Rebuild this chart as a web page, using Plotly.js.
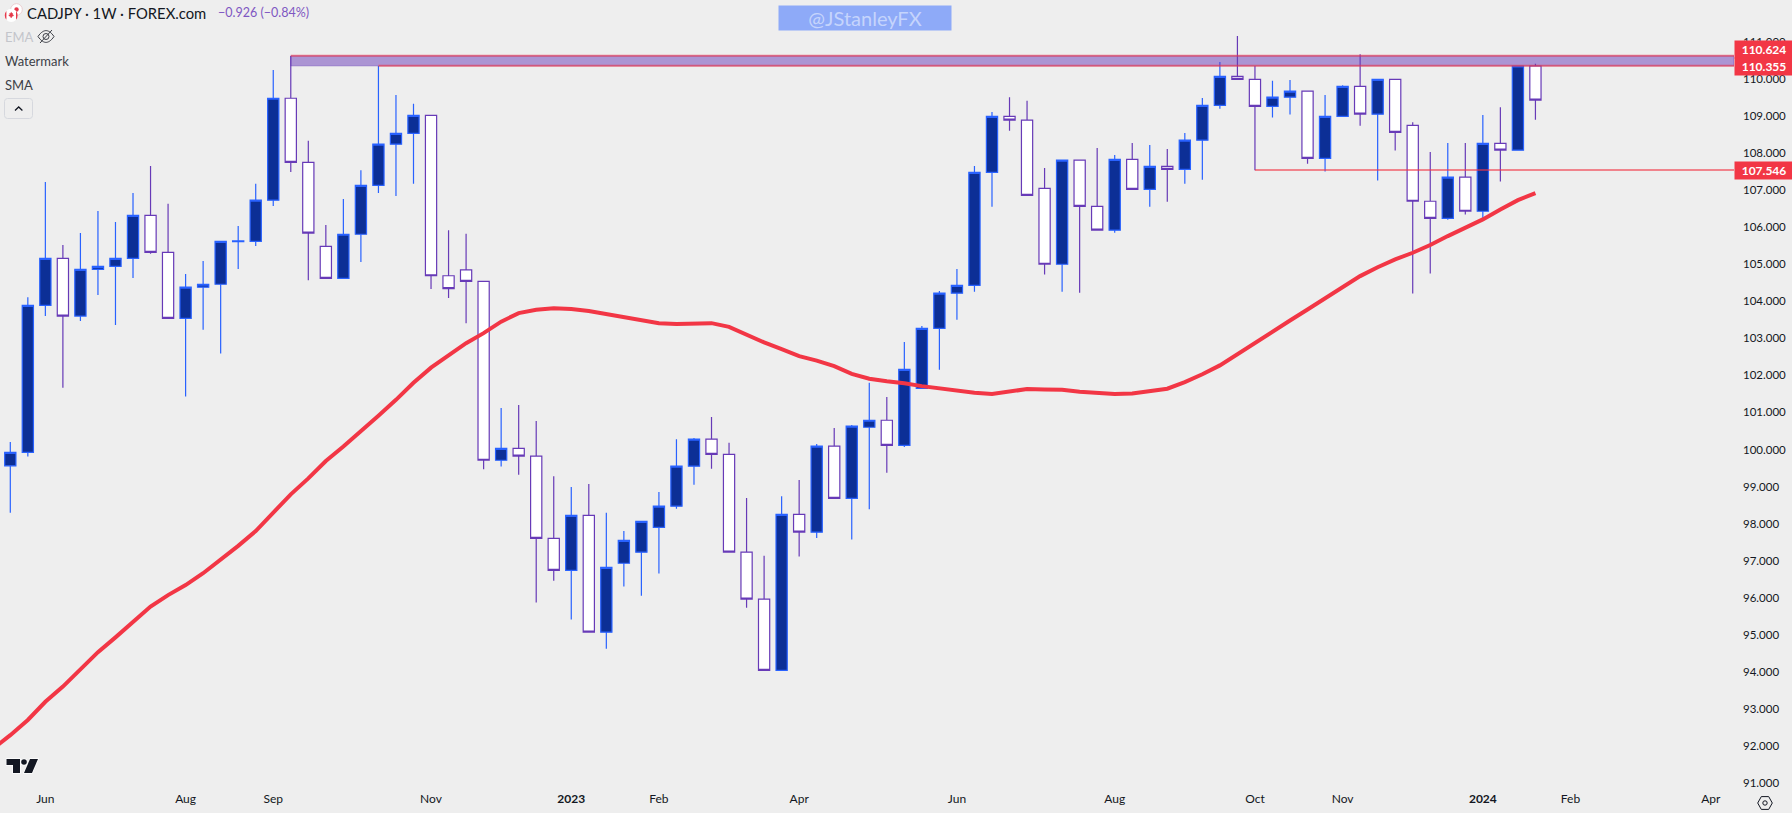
<!DOCTYPE html>
<html><head><meta charset="utf-8">
<script src="https://cdn.plot.ly/plotly-3.0.1.min.js"></script>
<style>html,body{margin:0;padding:0;background:#eeeeee;overflow:hidden}#chart{width:1792px;height:813px}</style>
</head><body><div id="chart"></div>
<script>
const weeks = [
'2022-05-23','2022-05-30','2022-06-06','2022-06-13','2022-06-20','2022-06-27','2022-07-04','2022-07-11','2022-07-18','2022-07-25',
'2022-08-01','2022-08-08','2022-08-15','2022-08-22','2022-08-29','2022-09-05','2022-09-12','2022-09-19','2022-09-26','2022-10-03',
'2022-10-10','2022-10-17','2022-10-24','2022-10-31','2022-11-07','2022-11-14','2022-11-21','2022-11-28','2022-12-05','2022-12-12',
'2022-12-19','2022-12-26','2023-01-02','2023-01-09','2023-01-16','2023-01-23','2023-01-30','2023-02-06','2023-02-13','2023-02-20',
'2023-02-27','2023-03-06','2023-03-13','2023-03-20','2023-03-27','2023-04-03','2023-04-10','2023-04-17','2023-04-24','2023-05-01',
'2023-05-08','2023-05-15','2023-05-22','2023-05-29','2023-06-05','2023-06-12','2023-06-19','2023-06-26','2023-07-03','2023-07-10',
'2023-07-17','2023-07-24','2023-07-31','2023-08-07','2023-08-14','2023-08-21','2023-08-28','2023-09-04','2023-09-11','2023-09-18',
'2023-09-25','2023-10-02','2023-10-09','2023-10-16','2023-10-23','2023-10-30','2023-11-06','2023-11-13','2023-11-20','2023-11-27',
'2023-12-04','2023-12-11','2023-12-18','2023-12-25','2024-01-01','2024-01-08','2024-01-15','2024-01-22'];
const opens = [
99.56,99.92,103.89,105.16,103.60,104.86,104.94,105.16,106.32,105.32,
103.54,104.38,104.46,105.61,105.62,106.73,109.48,107.75,105.48,104.62,
105.81,107.13,108.24,108.53,109.02,104.69,104.85,104.54,99.71,100.03,
99.82,97.60,96.74,98.22,95.07,96.93,97.23,97.90,98.47,99.55,
100.28,99.87,97.23,95.96,94.04,98.25,97.77,100.09,98.68,100.60,
100.79,100.11,101.65,103.27,104.22,104.43,107.48,108.99,108.89,107.05,
105.00,107.81,106.56,105.92,107.83,107.02,107.64,107.56,108.35,109.29,
110.07,109.99,109.26,109.51,109.67,107.86,108.99,109.80,109.05,109.99,
108.75,106.70,106.24,107.35,106.43,108.26,108.08,110.35];
const highs = [
100.20,104.11,107.22,105.52,105.84,106.44,106.14,106.92,107.65,106.63,
104.74,105.09,105.62,106.03,107.17,110.24,110.62,108.33,106.06,106.76,
107.54,110.35,109.57,109.33,109.02,105.92,105.82,104.54,101.12,101.20,
100.77,99.28,98.99,99.07,98.29,97.80,98.06,98.85,100.28,100.31,
100.88,100.18,98.69,97.13,98.74,99.18,100.15,100.58,100.66,101.80,
101.42,102.90,103.33,104.28,104.87,107.65,109.11,109.51,109.41,107.60,
107.81,107.81,108.14,107.95,108.27,108.22,108.11,108.54,109.49,110.46,
111.16,110.35,109.95,109.97,109.67,109.57,109.83,110.67,109.99,109.99,
108.83,108.03,108.27,108.27,109.03,109.24,110.35,110.41];
const lows = [
98.29,99.81,103.60,101.67,103.47,104.17,103.36,104.63,105.28,103.54,
101.43,103.23,102.59,104.87,105.49,106.57,107.49,104.57,104.62,104.62,
105.06,106.92,106.84,107.17,104.33,104.09,103.41,99.47,99.54,99.32,
95.87,96.46,95.41,95.07,94.62,96.30,96.05,96.65,98.40,99.05,
99.48,97.23,95.73,94.04,94.04,97.11,97.61,98.68,97.57,98.39,
99.37,100.07,101.65,102.15,103.50,104.26,106.55,108.60,106.86,104.72,
104.26,104.23,105.92,105.85,107.02,106.55,106.69,107.17,107.28,109.20,
109.99,107.54,108.96,109.04,107.71,107.50,108.99,108.74,107.26,108.07,
104.21,104.75,106.20,106.34,106.22,107.23,108.08,108.90];
const closes = [
99.92,103.89,105.16,103.60,104.86,104.94,105.16,106.32,105.32,103.54,
104.38,104.46,105.62,105.63,106.73,109.48,107.75,105.84,104.62,105.81,
107.13,108.24,108.53,109.02,104.69,104.34,104.54,99.71,100.03,99.82,
97.60,96.74,98.22,95.07,96.82,97.55,98.06,98.47,99.55,100.28,
99.87,97.23,95.96,94.04,98.25,97.77,100.09,98.68,100.63,100.79,
100.11,102.16,103.27,104.22,104.43,107.48,108.99,108.89,106.86,105.00,
107.81,106.56,105.92,107.83,107.02,107.64,107.56,108.35,109.29,110.07,
109.99,109.26,109.51,109.67,107.86,108.99,109.80,109.05,109.99,108.56,
106.70,106.24,107.35,106.43,108.26,108.08,110.35,109.43];
const smaWeeks = ['2022-05-16'].concat(weeks);
const smaValues = [
91.92,92.29,92.70,93.19,93.60,94.05,94.53,94.93,95.35,95.76,
96.07,96.34,96.66,97.02,97.40,97.80,98.31,98.79,99.22,99.69,
100.08,100.48,100.91,101.34,101.80,102.21,102.55,102.87,103.14,103.45,
103.68,103.77,103.81,103.79,103.74,103.66,103.57,103.50,103.41,103.39,
103.39,103.41,103.31,103.09,102.89,102.71,102.52,102.40,102.25,102.04,
101.91,101.84,101.79,101.71,101.65,101.61,101.53,101.50,101.56,101.63,
101.62,101.61,101.56,101.53,101.50,101.51,101.57,101.64,101.82,102.03,
102.27,102.58,102.88,103.17,103.48,103.78,104.07,104.38,104.68,104.92,
105.13,105.31,105.52,105.76,105.98,106.21,106.48,106.73,106.92];
const levelNames = ['110.624','110.355','107.546'];
const levelValues = [110.624,110.355,107.546];
const levelStarts = ['2022-09-12','2022-10-17','2023-10-02'];
const levelLabelShift = [6.3,-0.8,-0.5];
const xTickDates = ['2022-06-06','2022-08-01','2022-09-05','2022-11-07','2023-01-02','2023-02-06','2023-04-03','2023-06-05','2023-08-07','2023-10-02','2023-11-06','2024-01-01','2024-02-05','2024-04-01'];
const xTickLabels = ['Jun','Aug','Sep','Nov','<b>2023</b>','Feb','Apr','Jun','Aug','Oct','Nov','<b>2024</b>','Feb','Apr'];
const xRange = ['2022-05-18 21:17','2024-04-10 07:00'];
const yRange = [90.81,112.132];

if ([opens,highs,lows,closes].some(a=>a.length!==weeks.length)||smaValues.length!==smaWeeks.length) throw new Error('length mismatch '+[opens.length,highs.length,lows.length,closes.length,weeks.length,smaValues.length]);

const W=1792,H=813,PW=1734,PH=790;
const FONT='Lato, "Noto Sans", sans-serif';
const px=v=>v/PW, py=v=>1-v/PH;
const svgUri=s=>'data:image/svg+xml;utf8,'+encodeURIComponent(s);
function icon(x,y,w,h,inner){
  return {source:svgUri(`<svg xmlns="http://www.w3.org/2000/svg" width="${w}" height="${h}" viewBox="0 0 ${w} ${h}">${inner}</svg>`),
    xref:'paper',yref:'paper',x:px(x),y:py(y),sizex:w/PW,sizey:h/PH,xanchor:'left',yanchor:'top',sizing:'stretch',layer:'above'};
}
function note(x,y,text,size,color,extra){
  return Object.assign({xref:'paper',yref:'paper',x:px(x),y:py(y),xanchor:'left',yanchor:'middle',showarrow:false,text:text,
    font:{family:FONT,size:size,color:color},borderpad:0},extra||{});
}
const images=[
 icon(3,2,21,21,`<circle cx="13.5" cy="7.5" r="5.8" fill="#fff" stroke="#e8c5c8" stroke-width=".8"/><circle cx="13.5" cy="7.5" r="2.2" fill="#e5394a"/><circle cx="8.2" cy="13.3" r="6.6" fill="#fff"/><path d="M3.4 8.9a6.6 6.6 0 0 0 0 8.8zM13 8.9a6.6 6.6 0 0 1 0 8.8z" fill="#e5394a"/><path d="M8.2 9.8l1 1.6.9-.3-.3 2 1.1-.4-.4 1.3-1.6.7v1h-1.4v-1l-1.6-.7-.4-1.3 1.1.4-.3-2 .9.3z" fill="#e5394a"/>`),
 icon(37,29,18,15,`<path d="M1 7.5C4 3 7 1.6 9 1.6s5 1.4 8 5.9C14 12 11 13.4 9 13.4S4 12 1 7.5z" fill="none" stroke="#3c3f47" stroke-width="1"/><circle cx="9" cy="7.5" r="3" fill="none" stroke="#3c3f47" stroke-width="1"/><path d="M3 14L15 1" stroke="#3c3f47" stroke-width="1"/>`),
 icon(4,98,29,21,`<rect x=".5" y=".5" width="28" height="20" rx="3" fill="none" stroke="#d6d8de"/><path d="M11 12.5l3.7-3.5 3.7 3.5" fill="none" stroke="#131722" stroke-width="1.3"/>`),
 icon(4,756,36,21,`<g fill="#131722" stroke="#fff" stroke-width="1.4" paint-order="stroke"><path d="M2.5 3h13.5v14h-7V9h-6.500z"/><circle cx="20" cy="6" r="2.8"/><path d="M26 3h8l-6 14h-8z"/></g>`),
 icon(1757,795,16,16,`<path d="M4.300 1.600h7.400L15.300 8l-3.600 6.400H4.300L.700 8z" fill="none" stroke="#131722" stroke-width="1"/><circle cx="8" cy="8" r="2.200" fill="none" stroke="#131722" stroke-width="1"/>`)
];
const levelColor='rgba(242,54,69,0.58)';
const shapes=[
 {type:'rect',xref:'x',yref:'y',x0:levelStarts[0],x1:xRange[1],y0:levelValues[1],y1:levelValues[0],fillcolor:'rgba(103,58,183,0.5)',line:{color:'rgba(103,58,183,0.45)',width:1},layer:'above'}
].concat(levelValues.map((v,i)=>({type:'line',xref:'x',yref:'y',x0:levelStarts[i],x1:xRange[1],y0:v,y1:v,line:{color:levelColor,width:2},layer:'above'})));
const annotations=[
 note(26,13,'CADJPY · 1W · FOREX.com',14.8,'#131722'),
 note(217,13,'−0.926 (−0.84%)',12.5,'#7e57c2'),
 note(4,37,'EMA',13,'#c3c5cb'),
 note(4,61,'Watermark',13,'#3c3f47'),
 note(4,85,'SMA',13,'#3c3f47'),
 note(865,18,'@JStanleyFX',20,'#c5d4fc',{xanchor:'center',width:172,height:24,bgcolor:'#8eaaf8',align:'center',valign:'middle'})
].concat(levelValues.map((v,i)=>({xref:'paper',yref:'y',x:1,y:v,yshift:levelLabelShift[i],xanchor:'left',yanchor:'middle',showarrow:false,text:'<b>'+levelNames[i]+'</b>',
   width:58,height:17,bgcolor:'#f23645',borderpad:0,align:'center',valign:'middle',font:{family:FONT,size:12,color:'#ffffff'}})));
const traces=[
 {type:'candlestick',x:weeks,open:opens,high:highs,low:lows,close:closes,
  increasing:{fillcolor:'#0c2f96',line:{color:'#2962ff',width:1.2}},
  decreasing:{fillcolor:'#ffffff',line:{color:'#673ab7',width:1.2}},
  whiskerwidth:0,hoverinfo:'skip',showlegend:false},
 {type:'scatter',mode:'lines',x:smaWeeks,y:smaValues,line:{color:'#f23645',width:4},hoverinfo:'skip',showlegend:false,cliponaxis:true}
];
const layout={
 width:W,height:H,margin:{l:0,r:58,t:0,b:23,pad:0},paper_bgcolor:'#eeeeee',plot_bgcolor:'#eeeeee',showlegend:false,boxgap:0.36,boxgroupgap:0,
 font:{family:FONT,size:12,color:'#131722'},
 xaxis:{type:'date',range:xRange,rangeslider:{visible:false},showgrid:false,zeroline:false,showline:false,ticks:'',tickmode:'array',tickvals:xTickDates,ticktext:xTickLabels,tickangle:0,tickfont:{family:FONT,size:12,color:'#131722'},automargin:false,fixedrange:true},
 yaxis:{side:'right',range:yRange,tickmode:'linear',tick0:0,dtick:1,tickformat:'.3f',showgrid:false,zeroline:false,showline:false,ticks:'',ticklen:0,ticklabelstandoff:8,tickfont:{family:FONT,size:11.5,color:'#131722'},automargin:false,fixedrange:true},
 shapes:shapes,annotations:annotations,images:images
};
Plotly.newPlot('chart',traces,layout,{staticPlot:true,displayModeBar:false});
</script></body></html>
